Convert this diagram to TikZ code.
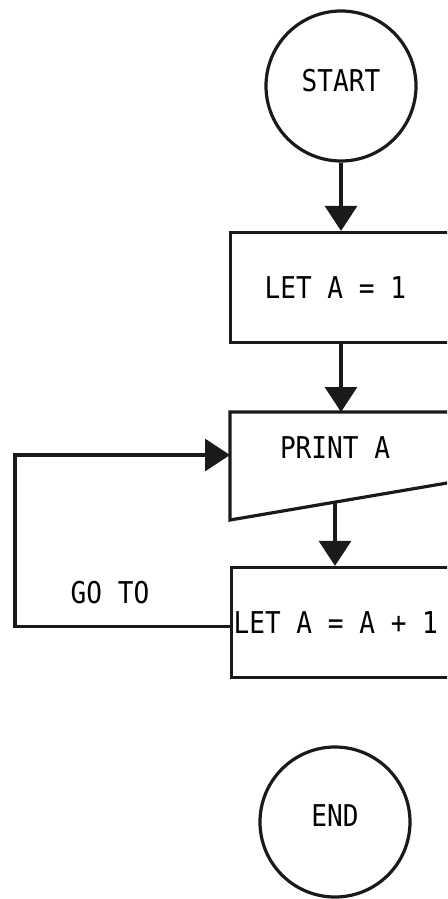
\documentclass[tikz,border=0pt]{standalone}
\usepackage{fontspec}
\setmonofont[FakeStretch=0.87]{DejaVu Sans Mono}
\usepackage{tikz}
\usetikzlibrary{arrows.meta,positioning,calc}
\definecolor{ink}{HTML}{1A1A1A}
% condensed typewriter lettering, fixed-width spaces
\newcommand\flowfont{\ttfamily\fontsize{15}{17}\selectfont\spaceskip=7.86pt\relax}
\tikzset{
  terminal/.style={draw=ink, circle, line width=1.6pt, minimum size=75pt, inner sep=0pt, font=\flowfont},
  procbox/.style={draw=ink, line width=1.6pt, anchor=west, align=left, minimum height=55pt, font=\flowfont,
    execute at begin node={\spaceskip=7.86pt\xspaceskip=7.86pt\relax}},
  iobox/.style={draw=ink, line width=1.6pt, line join=miter},
  tag/.style={font=\flowfont},
  arrow/.style={-{Triangle[length=12.5pt, width=16pt]}, line width=1.6pt, draw=ink}
}

\begin{document}
\begin{tikzpicture}[x=0.5pt, y=-0.5pt]
  \clip (0,0) rectangle (447,899);
  \useasboundingbox (0,0) rectangle (447,899);

  \node[terminal] (start) at (341,86) {\raisebox{6pt}{START}};
  \node[procbox, text width=92pt, inner xsep=17pt] (let1) at (229,287.5) {LET A = 1};

  % input/output box with the sloping bottom edge
  \coordinate (print top) at (230,412);
  \coordinate (print in) at (230,455);
  \coordinate (slant) at (335,502);
  \draw[iobox] (480,412) -- (print top) -- (230,520) -- (480,477.4);
  \node[tag] (print) at (335,448) {PRINT A};

  \node[procbox, text width=120pt, inner xsep=1pt] (let2) at (230,622.5) {\raisebox{-2pt}{LET A = A + 1}};
  \node[tag] (goto) at (110,593) {GO TO};

  \node[terminal] (end) at (335,822) {\raisebox{6pt}{END}};

  \draw[arrow] (start) -- (start |- let1.north);
  \draw[arrow] (let1.south -| start) -- (start |- print top);
  \draw[arrow] (slant) -- (slant |- let2.north);
  \draw[arrow] ([yshift=-2pt]let2.west) -- ++(-215,0) |- (print in);
\end{tikzpicture}
\end{document}
